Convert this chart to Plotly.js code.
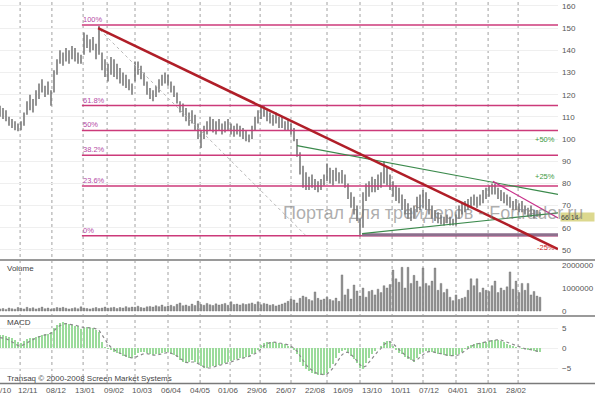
<!DOCTYPE html>
<html><head><meta charset="utf-8">
<script src="https://cdn.plot.ly/plotly-3.0.1.min.js"></script>
<style>html,body{margin:0;padding:0;background:#fff}#chart{width:595px;height:394px}</style>
</head><body><div id="chart"></div>
<script>
// ---- data (one element per ~2 trading days) ----
const priceHi = [115,114,113,110,109,108,107,108,112,117,
120,118,122,125,127,124,126,122,131,136,
140,139,141,140,142,141,139,138,148,147,
145,146,143,151,139,136,134,137,136,134,
132,130,129,127,125,135,135,133,130,126,
123,122,124,127,129,130,129,126,124,121,
117,116,114,112,113,111,107,104,106,108,
110,109,108,109,107,108,109,107,106,107,
106,105,104,102,106,110,113,115,115,113,
112,111,112,110,110,108,109,107,105,100,
94,88,85,83,84,82,81,82,84,89,
87,86,87,85,86,84,80,76,74,70,
64,76,80,81,83,82,84,85,90,87,
84,81,79,78,75,73,71,69,70,74,
75,77,76,73,70,68,67,66,65,66,
65,64,66,70,71,72,73,74,75,74,
75,77,78,79,80,80,78,77,76,75,
74,72,73,71,72,70,69,70,68,68,67];
const priceLo = [110,109,108,106,105,104,103.5,104,106,111,
113,112,115,118,121,119,120,115,121,129,
134,133,135,134,136,135,134,134,138,141,
139,140,136,138,131,128,126,129,128,127,
125,124,123,122,120,126,129,127,124,120,
118,117,119,121,124,125,124,121,119,116,
112,110,108,106,107,104,100,96,100,102,
104,103,102,104,102,103,104,102,101,102,
101,100,99,98.5,100,104,107,109,110,108,
107,106,107,105,105,104,104,102,99,92,
84,78,77,77,78,77,76,77,79,81,
80,79,81,80,80,78,73,69,66,63,
56,60,72,74,76,76,77,78,80,79,
77,74,72,71,68,66,64,63,64,67,
68,69,68,66,64,63,62,61.5,61,62,
61,61,61,64,66,67,68,69,70,69,
70,71,73,74,75,75,73,72,71,70,
69,68,68,67,67,66,65,65,64,65,65];
const volume = [90e3,110e3,70e3,130e3,100e3,80e3,150e3,120e3,90e3,160e3,
110e3,140e3,90e3,120e3,170e3,100e3,130e3,80e3,110e3,150e3,
130e3,160e3,120e3,90e3,110e3,140e3,100e3,180e3,130e3,110e3,
90e3,120e3,150e3,110e3,130e3,170e3,120e3,140e3,160e3,110e3,
150e3,130e3,190e3,140e3,170e3,160e3,210e3,150e3,130e3,180e3,
200e3,170e3,230e3,190e3,260e3,180e3,220e3,250e3,200e3,290e3,
350e3,230e3,260e3,210e3,300e3,240e3,430e3,280e3,250e3,330e3,
270e3,240e3,310e3,260e3,290e3,330e3,250e3,400e3,280e3,300e3,
260e3,320e3,280e3,310e3,350e3,290e3,400e3,270e3,330e3,300e3,
250e3,280e3,220e3,260e3,300e3,350e3,420e3,520e3,480e3,350e3,
550e3,650e3,600e3,500e3,450e3,830e3,550e3,480e3,520e3,600e3,
500e3,450e3,560e3,420e3,1570e3,700e3,950e3,520e3,1130e3,870e3,
650e3,1000e3,600e3,850e3,900e3,700e3,950e3,800e3,1100e3,1000e3,
1150e3,1780e3,1400e3,1250e3,1900e3,1000e3,1900e3,1200e3,1550e3,1300e3,
1050e3,1870e3,1200e3,1100e3,1300e3,1870e3,900e3,1200e3,800e3,950e3,
600e3,450e3,700e3,500e3,550e3,600e3,900e3,1400e3,1100e3,1400e3,
800e3,1000e3,900e3,850e3,1100e3,1300e3,800e3,1000e3,900e3,1050e3,
1700e3,950e3,1300e3,800e3,1200e3,900e3,1200e3,700e3,850e3,650e3,600e3];
const macd = [3.3,3.2,3.0,2.8,2.4,2.0,1.4,1.3,1.8,2.2,
2.4,2.6,2.8,3.0,3.2,3.4,3.6,4.0,5.0,5.8,
6.3,6.5,6.2,6.0,5.8,5.6,5.4,4.7,4.9,5.2,
5.1,5.0,4.6,4.0,1.5,0.3,-0.3,-0.6,-1.0,-1.3,
-1.6,-1.9,-2.2,-2.4,-2.5,-1.8,-1.2,-1.0,-1.1,-1.3,
-1.6,-1.8,-1.6,-1.4,-1.2,-1.0,-1.1,-1.4,-1.7,-2.2,
-3.0,-3.5,-3.8,-3.5,-3.1,-3.4,-4.0,-4.5,-4.9,-5.0,
-4.8,-4.6,-4.4,-4.2,-4.0,-3.8,-3.6,-3.2,-3.0,-2.8,
-2.6,-2.4,-2.2,-1.9,-1.6,-1.3,-0.5,0.8,1.3,1.6,
1.6,1.5,1.3,1.2,1.0,0.9,0.6,0.2,-0.5,-1.4,
-3.5,-4.5,-5.3,-5.8,-6.2,-6.5,-6.7,-6.8,-6.7,-6.2,
-5.0,-3.9,-2.4,-1.3,-0.8,-0.4,-1.3,-2.0,-2.8,-3.8,
-5.0,-5.2,-3.8,-2.4,-1.5,-0.8,0.0,0.6,1.5,1.8,
1.5,0.5,-0.6,-1.2,-1.6,-2.2,-2.7,-3.1,-3.5,-2.6,
-1.6,-1.0,-0.8,-0.7,-0.9,-1.2,-1.5,-1.6,-1.8,-1.9,
-1.9,-1.9,-1.8,-1.4,-0.9,-0.2,0.4,0.8,1.0,1.2,
1.3,1.4,1.6,1.8,1.9,2.1,2.1,1.8,1.4,1.1,
0.8,0.5,0.2,0.0,-0.2,-0.3,-0.4,-0.5,-0.7,-0.9,-1.0];
const signal = [2.6,2.5,2.3,2.0,1.6,1.2,0.6,0.5,0.9,1.5,
1.9,2.2,2.5,2.8,3.0,3.2,3.4,3.7,4.3,5.1,
5.6,6.0,6.1,6.0,5.9,5.7,5.5,5.2,5.1,5.1,
5.1,5.0,4.8,4.4,3.3,2.0,1.0,0.2,-0.4,-0.9,
-1.3,-1.7,-2.0,-2.3,-2.5,-2.4,-2.0,-1.6,-1.4,-1.4,
-1.6,-1.8,-1.8,-1.6,-1.4,-1.2,-1.1,-1.3,-1.6,-2.0,
-2.6,-3.2,-3.6,-3.7,-3.5,-3.5,-3.8,-4.3,-4.7,-5.0,
-5.0,-4.8,-4.6,-4.4,-4.2,-4.0,-3.8,-3.5,-3.2,-3.0,
-2.8,-2.6,-2.4,-2.1,-1.8,-1.5,-1.0,-0.2,0.6,1.1,
1.4,1.5,1.4,1.3,1.2,1.0,0.8,0.5,0.0,-0.8,
-2.0,-3.2,-4.2,-5.0,-5.6,-6.1,-6.4,-6.6,-6.7,-6.5,
-5.9,-5.0,-3.8,-2.6,-1.7,-1.1,-1.1,-1.6,-2.3,-3.2,
-4.2,-4.8,-4.5,-3.5,-2.5,-1.6,-0.8,-0.1,0.8,1.4,
1.6,1.1,0.3,-0.5,-1.1,-1.7,-2.3,-2.8,-3.2,-3.0,
-2.3,-1.6,-1.1,-0.9,-0.9,-1.1,-1.3,-1.5,-1.7,-1.8,
-1.9,-1.9,-1.9,-1.7,-1.3,-0.7,-0.1,0.4,0.8,1.0,
1.2,1.3,1.5,1.7,1.8,2.0,2.1,2.0,1.7,1.4,
1.1,0.8,0.5,0.2,0.0,-0.2,-0.3,-0.4,-0.6,-0.8,-0.9];

// date labels and gridline positions (bar-index units)
const dateLabels = ['/10','12/11','08/12','13/01','09/02','10/03','06/04','04/05','01/06','29/06','26/07','22/08','16/09','13/10','10/11','07/12','04/01','31/01','28/02'];
const dateLabelPos = [2,9.3,18.9,28.5,38.0,47.6,57.2,66.7,76.3,85.9,95.4,105.0,114.6,124.1,133.7,143.3,152.8,162.4,172.0];
const gridPos = [6.7,17.3,27.7,35.7,45,56,66.7,76.7,86.7,97,109,120,130.7,141,152,162.7,172.7];

// Fibonacci retracement
const fibHigh = 151.4, fibLow = 56.4, fibStartX = 27.3;
const fibRatios = [0,0.236,0.382,0.5,0.618,1];
const fibNames = ['0%','23.6%','38.2%','50%','61.8%','100%'];

// drawn trend lines (endpoints)
const redLineX = [32.7,186], redLineY = [150,50.4];
const grayDiagX = [33.3,101.7], grayDiagY = [149.2,56.8];
const greenUpX = [99,186], greenUpY = [97,75];
const greenLowX = [120.7,186], greenLowY = [57.3,66.7];
const pinkTrendX = [164.3,186], pinkTrendY = [80.9,64.4];
const supportX = [120.7,186], supportY = [56.8,56.8];
const lastPrice = 66.14;
const channelNotes = ['+50%','+25%','-25%'];
const channelNoteY = [99.6,82.9,50.9];

// ---- build ----
const idx = priceHi.map((_, i) => i);
const segX = [], segY = [];
priceHi.forEach((h, i) => { segX.push(i, i, null); segY.push(priceLo[i], h, null); });

const XMAX = 186;
const traces = [];
traces.push({x: segX, y: segY, type:'scatter', mode:'lines', line:{color:'#7a7a7a', width:1.6}, hoverinfo:'skip', xaxis:'x', yaxis:'y'});
function tl(x, y, color, width, dash){
  traces.push({x:x, y:y, type:'scatter', mode:'lines', line:{color:color, width:width, dash:dash||'solid'}, hoverinfo:'skip', xaxis:'x', yaxis:'y'});
}
tl(grayDiagX, grayDiagY, '#b8b8b8', 1, 'dot');
fibRatios.forEach((r) => { const v = fibLow + r*(fibHigh-fibLow); tl([fibStartX, XMAX], [v, v], '#cc3a7a', 1.5); });
tl(supportX, supportY, '#8d6f8d', 3);
tl(greenUpX, greenUpY, '#3b8a4c', 1.2);
tl(greenLowX, greenLowY, '#3b8a4c', 1.2);
tl(pinkTrendX, pinkTrendY, '#c8308a', 1.3);
tl(redLineX, redLineY, '#b01e28', 2.5);

traces.push({x: idx, y: volume, type:'bar', width:0.6, marker:{color:'#8e8e8e', line:{color:'#6e6e6e', width:0.4}}, hoverinfo:'skip', xaxis:'x2', yaxis:'y2'});
traces.push({x: idx, y: macd, type:'bar', width:0.72, marker:{color:'#9bdb9b', line:{width:0}}, hoverinfo:'skip', xaxis:'x3', yaxis:'y3'});
traces.push({x: idx, y: signal, type:'scatter', mode:'lines', line:{color:'#8a8a8a', width:1.2, dash:'dot'}, hoverinfo:'skip', xaxis:'x3', yaxis:'y3'});

const H = 383;
const dom = (top, bot) => [1 - bot/H, 1 - top/H];
const xbase = {range:[0, XMAX], zeroline:false, showline:false, ticks:'', showticklabels:false, showgrid:false, fixedrange:true};
const ybase = {side:'right', zeroline:false, showline:false, ticks:'', ticklabelstandoff:3, fixedrange:true, tickfont:{size:8, color:'#555'}};

const annotations = [];
dateLabels.forEach((t, k) => {
  annotations.push({x: dateLabelPos[k], y: 0, xref:'x3', yref:'paper', text:t, showarrow:false, xanchor:'center', yanchor:'top', yshift:-1, font:{size:8, color:'#555'}});
});
fibRatios.forEach((r, k) => {
  annotations.push({x: fibStartX, y: fibLow + r*(fibHigh-fibLow), xref:'x', yref:'y', text: fibNames[k], showarrow:false, xanchor:'left', yanchor:'bottom', yshift:-1, xshift:-1, font:{size:7.5, color:'#b54aa5'}});
});
channelNotes.forEach((t, k) => {
  annotations.push({x: XMAX, y: channelNoteY[k], xref:'x', yref:'y', text:t, showarrow:false, xanchor:'right', yanchor:'middle', xshift:-1, font:{size:7.5, color: t[0]==='-' ? '#cc2a2a' : '#3f9a45'}});
});
annotations.push({x:1, y:lastPrice, xref:'paper', yref:'y', text:'66.14', showarrow:false, xanchor:'left', yanchor:'middle', xshift:2, yshift:-3, width:33, height:8, align:'left', bgcolor:'#dcd88e', borderpad:0, font:{size:7, color:'#444'}});
annotations.push({x:433/558, y:66.7, xref:'paper', yref:'y', text:'Портал для трейдеров - Fortrader.ru', showarrow:false, xanchor:'center', yanchor:'middle', font:{size:18, color:'rgba(120,120,120,0.6)', family:'Liberation Sans, Arial, sans-serif'}});
annotations.push({x:5/558, y:1-268/H, xref:'paper', yref:'paper', text:'Volume', showarrow:false, xanchor:'left', yanchor:'middle', font:{size:8, color:'#444'}});
annotations.push({x:5/558, y:1-322/H, xref:'paper', yref:'paper', text:'MACD', showarrow:false, xanchor:'left', yanchor:'middle', font:{size:8, color:'#444'}});
annotations.push({x:5/558, y:1-378/H, xref:'paper', yref:'paper', text:'Transaq © 2000-2008 Screen Market Systems', showarrow:false, xanchor:'left', yanchor:'middle', font:{size:8, color:'#444'}});

const sepLine = (py, w, c) => ({type:'line', xref:'paper', yref:'paper', x0:0, x1:595/558, y0:1-py/H, y1:1-py/H, line:{color:c, width:w}});
const shapes = gridPos.map(g => ({type:'line', xref:'x', yref:'paper', x0:g, x1:g, y0:0, y1:1, layer:'below', line:{color:'#a2a2a2', width:1, dash:'dot'}}));
shapes.push(sepLine(260,2,'#9a9a9a'), sepLine(316,2,'#9a9a9a'), sepLine(383.5,1.5,'#7a7a7a'));

const layout = {
  width:595, height:394, margin:{l:0, r:37, t:0, b:11, pad:0},
  paper_bgcolor:'#ffffff', plot_bgcolor:'rgba(0,0,0,0)', showlegend:false, bargap:0,
  font:{family:'Liberation Sans, Arial, sans-serif', size:8, color:'#555'},
  xaxis: Object.assign({}, xbase, {domain:[0,1], anchor:'y'}),
  xaxis2: Object.assign({}, xbase, {domain:[0,1], anchor:'y2', matches:'x'}),
  xaxis3: Object.assign({}, xbase, {domain:[0,1], anchor:'y3', matches:'x'}),
  yaxis: Object.assign({}, ybase, {domain:dom(0,259), range:[45.9,162.7], tickvals:[50,60,70,80,90,100,110,120,130,140,150,160], showgrid:true, gridcolor:'#efefef', gridwidth:1}),
  yaxis2: Object.assign({}, ybase, {domain:dom(261,315), range:[-174000,2174000], tickvals:[0,1000000,2000000], ticktext:['0','1000000','2000000'], showgrid:false}),
  yaxis3: Object.assign({}, ybase, {domain:dom(317,383), range:[-8.75,7.75], tickvals:[-5,0,5], showgrid:true, gridcolor:'#f0f0f0'}),
  shapes: shapes,
  annotations: annotations
};
Plotly.newPlot('chart', traces, layout, {staticPlot:true, displayModeBar:false});
</script>
</body></html>
